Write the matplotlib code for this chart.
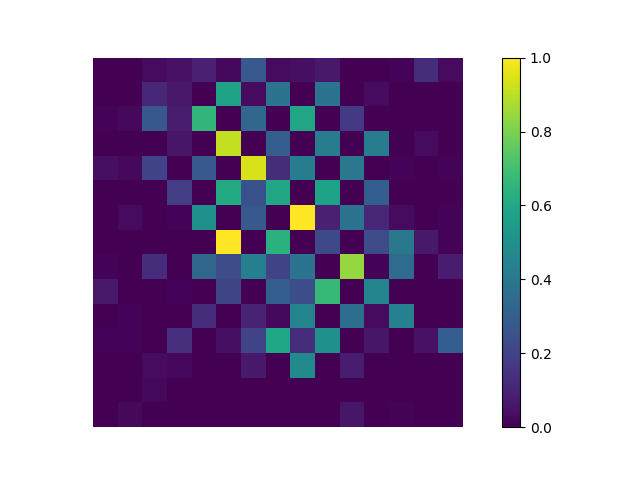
import numpy as np
import matplotlib
matplotlib.use("Agg")
import matplotlib.pyplot as plt

row00 = [.00,.00,.03,.05,.09,.02,.28,.03,.04,.07,.00,.00,.01,.13,.03]
row01 = [.00,.00,.11,.07,.00,.58,.03,.38,.00,.38,.00,.03,.00,.00,.00]
row02 = [.01,.02,.27,.08,.66,.00,.33,.00,.59,.00,.17,.00,.00,.00,.00]
row03 = [.00,.00,.00,.06,.00,.91,.00,.30,.00,.42,.00,.42,.00,.03,.00]
row04 = [.04,.02,.20,.00,.28,.00,.94,.13,.42,.00,.40,.00,.01,.00,.01]
row05 = [.00,.00,.00,.18,.00,.61,.25,.60,.00,.58,.00,.30,.00,.00,.00]
row06 = [.00,.03,.00,.01,.50,.00,.28,.00,1.0,.09,.38,.11,.03,.00,.01]
row07 = [.00,.00,.00,.00,.00,1.0,.00,.64,.00,.22,.00,.23,.40,.07,.01]
row08 = [.01,.00,.13,.00,.33,.23,.43,.20,.38,.00,.84,.01,.35,.00,.08]
row09 = [.07,.00,.00,.01,.00,.21,.00,.30,.24,.67,.00,.45,.00,.00,.00]
row10 = [.00,.01,.00,.00,.13,.00,.10,.02,.45,.00,.36,.03,.44,.00,.00]
row11 = [.01,.01,.00,.14,.00,.04,.20,.59,.13,.50,.00,.06,.00,.05,.30]
row12 = [.00,.00,.03,.02,.00,.00,.07,.00,.48,.00,.08,.00,.00,.00,.00]
row13 = [.00,.00,.02,.00,.00,.00,.00,.00,.00,.00,.00,.00,.00,.00,.00]
row14 = [.00,.02,.00,.00,.00,.00,.00,.00,.00,.00,.06,.00,.01,.00,.00]

matrix = np.array([row00,row01,row02,row03,row04,row05,row06,row07,
                   row08,row09,row10,row11,row12,row13,row14])

fig, ax = plt.subplots(figsize=(6.4, 4.8), dpi=100)
im = ax.imshow(matrix, cmap="viridis", vmin=0, vmax=1, interpolation="nearest")
fig.colorbar(im, ax=ax)
ax.set_position([93.0 / 640, 52.8 / 480, 369.6 / 640, 369.6 / 480])
ax.axis("off")
fig.savefig("out.png", dpi=100)
